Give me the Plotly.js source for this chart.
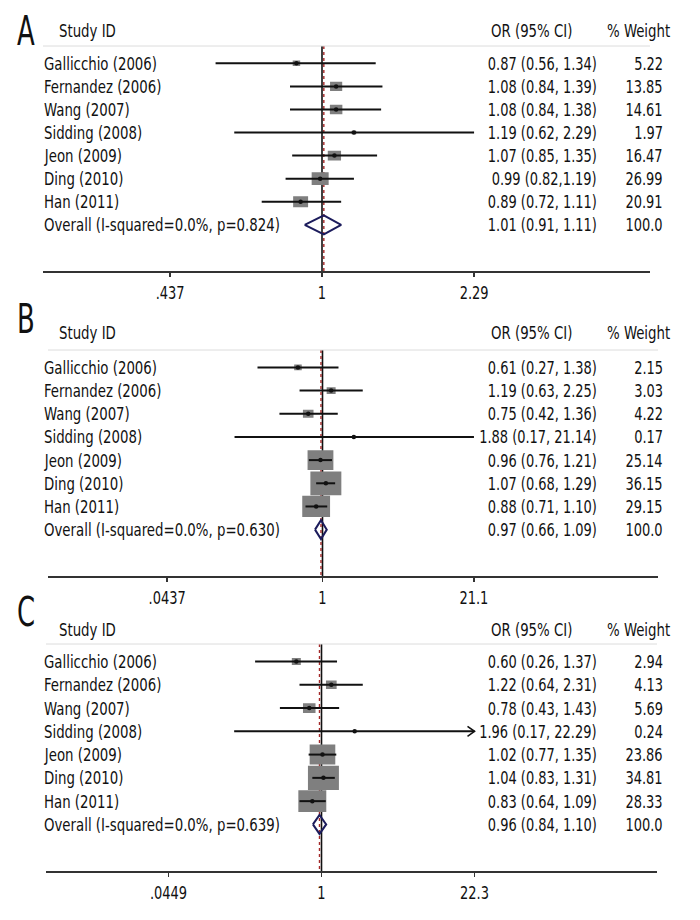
<!DOCTYPE html>
<html><head><meta charset="utf-8">
<script src="https://cdn.plot.ly/plotly-3.0.1.min.js"></script>
<style>html,body{margin:0;padding:0;background:#fff}#chart{width:700px;height:920px}</style>
</head><body><div id="chart"></div>
<script>
// ---------------- DATA ----------------
const studies = ['Gallicchio (2006)','Fernandez (2006)','Wang (2007)','Sidding (2008)','Jeon (2009)','Ding (2010)','Han (2011)'];

// Panel A
const labelA = 'A';
const overallLabelA = 'Overall (I-squared=0.0%, p=0.824)';
const orA = [0.87, 1.08, 1.08, 1.19, 1.07, 0.99, 0.89];
const loA = [0.56, 0.84, 0.84, 0.62, 0.85, 0.82, 0.72];
const hiA = [1.34, 1.39, 1.38, 2.29, 1.35, 1.19, 1.11];
const wA  = [5.22, 13.85, 14.61, 1.97, 16.47, 26.99, 20.91];
const overallA = [1.01, 0.91, 1.11];
const ciTextA = ['0.87 (0.56, 1.34)','1.08 (0.84, 1.39)','1.08 (0.84, 1.38)','1.19 (0.62, 2.29)','1.07 (0.85, 1.35)','0.99 (0.82,1.19)','0.89 (0.72, 1.11)','1.01 (0.91, 1.11)'];
const wTextA = ['5.22','13.85','14.61','1.97','16.47','26.99','20.91','100.0'];
const tickValsA = [0.437, 1, 2.29];
const tickTextA = ['.437', '1', '2.29'];
const arrowA = [0,0,0,0,0,0,0];

// Panel B
const labelB = 'B';
const overallLabelB = 'Overall (I-squared=0.0%, p=0.630)';
const orB = [0.61, 1.19, 0.75, 1.88, 0.96, 1.07, 0.88];
const loB = [0.27, 0.63, 0.42, 0.17, 0.76, 0.88, 0.71];
const hiB = [1.38, 2.25, 1.36, 21.14, 1.21, 1.29, 1.10];
const wB  = [2.15, 3.03, 4.22, 0.17, 25.14, 36.15, 29.15];
const overallB = [0.97, 0.86, 1.09];
const ciTextB = ['0.61 (0.27, 1.38)','1.19 (0.63, 2.25)','0.75 (0.42, 1.36)','1.88 (0.17, 21.14)','0.96 (0.76, 1.21)','1.07 (0.68, 1.29)','0.88 (0.71, 1.10)','0.97 (0.66, 1.09)'];
const wTextB = ['2.15','3.03','4.22','0.17','25.14','36.15','29.15','100.0'];
const tickValsB = [0.0437, 1, 21.1];
const tickTextB = ['.0437', '1', '21.1'];
const arrowB = [0,0,0,0,0,0,0];

// Panel C
const labelC = 'C';
const overallLabelC = 'Overall (I-squared=0.0%, p=0.639)';
const orC = [0.60, 1.22, 0.78, 1.96, 1.02, 1.04, 0.83];
const loC = [0.26, 0.64, 0.43, 0.17, 0.77, 0.83, 0.64];
const hiC = [1.37, 2.31, 1.43, 22.29, 1.35, 1.31, 1.09];
const wC  = [2.94, 4.13, 5.69, 0.24, 23.86, 34.81, 28.33];
const overallC = [0.96, 0.84, 1.10];
const ciTextC = ['0.60 (0.26, 1.37)','1.22 (0.64, 2.31)','0.78 (0.43, 1.43)','1.96 (0.17, 22.29)','1.02 (0.77, 1.35)','1.04 (0.83, 1.31)','0.83 (0.64, 1.09)','0.96 (0.84, 1.10)'];
const wTextC = ['2.94','4.13','5.69','0.24','23.86','34.81','28.33','100.0'];
const tickValsC = [0.0449, 1, 22.3];
const tickTextC = ['.0449', '1', '22.3'];
const arrowC = [0,0,0,1,0,0,0];

const headerStudy = 'Study ID';
const headerOR = 'OR (95% CI)';
const headerW = '% Weight';

// ---------------- LAYOUT / STYLE ----------------
const W = 700, H = 920;
const FONT = "'Liberation Sans Narrow', 'DejaVu Sans Condensed', 'Roboto Condensed', Arial, sans-serif";
const FS = 18.5;
const fx = px => px / W;
const fy = py => 1 - py / H;
const ROW_TOP = -0.75, ROW_BOT = 9;
const SX_TEXT = 0.80, SX_NUM = 0.78, SX_LETTER = 0.72, SX_TICK = 0.78;

const panels = [
  {key:'', label:labelA, overallLabel:overallLabelA, or:orA, lo:loA, hi:hiA, w:wA, ov:overallA, ciText:ciTextA, wText:wTextA, tv:tickValsA, tt:tickTextA, arrow:arrowA,
   xl:43, xr:650, p1:322, ppl:422.6, yt:46, yb:271, letterY:31, headerY:31, kx:3.27, ky:2.45},
  {key:'2', label:labelB, overallLabel:overallLabelB, or:orB, lo:loB, hi:hiB, w:wB, ov:overallB, ciText:ciTextB, wText:wTextB, tv:tickValsB, tt:tickTextB, arrow:arrowB,
   xl:48, xr:658, p1:322.5, ppl:114.3, yt:350, yb:576, letterY:319, headerY:332, kx:5.15, ky:3.95},
  {key:'3', label:labelC, overallLabel:overallLabelC, or:orC, lo:loC, hi:hiC, w:wC, ov:overallC, ciText:ciTextC, wText:wTextC, tv:tickValsC, tt:tickTextC, arrow:arrowC,
   xl:46, xr:657, p1:321.5, ppl:113.5, yt:644, yb:871, letterY:612, headerY:629, kx:5.25, ky:4.1}
];

const traces = [];
const annotations = [];
const annScale = [];
const shapes = [];
const layout = {
  width: W, height: H,
  margin: {l:0, r:0, t:0, b:0},
  paper_bgcolor: '#fff', plot_bgcolor: 'rgba(0,0,0,0)',
  showlegend: false,
  font: {family: FONT, size: FS, color: '#111'},
};
function addAnn(a, s) { annotations.push(a); annScale.push(s); }

panels.forEach(p => {
  const xa = 'x' + p.key, ya = 'y' + p.key;
  const rowPx = (p.yb - p.yt) / (ROW_BOT - ROW_TOP);
  const n = p.or.length;

  layout['xaxis' + p.key] = {
    type: 'log', domain: [fx(p.xl), fx(p.xr)], anchor: ya,
    range: [(p.xl - p.p1) / p.ppl, (p.xr - p.p1) / p.ppl],
    tickvals: p.tv, ticktext: p.tt, ticks: 'outside', ticklen: 4, tickwidth: 1.5, tickcolor: '#333',
    showline: true, linecolor: '#333', linewidth: 1.5, showgrid: false, zeroline: false,
    tickfont: {family: FONT, size: FS, color: '#111'}, fixedrange: true
  };
  layout['yaxis' + p.key] = {
    domain: [fy(p.yb), fy(p.yt)], anchor: xa, range: [ROW_BOT, ROW_TOP],
    visible: false, showgrid: false, zeroline: false, fixedrange: true
  };

  // null line at 1
  traces.push({x:[1,1], y:[ROW_TOP, ROW_BOT], xaxis:xa, yaxis:ya, mode:'lines',
    line:{color:'#111', width:1.6}, hoverinfo:'skip', cliponaxis:false});
  // overall effect dashed line
  traces.push({x:[p.ov[0], p.ov[0]], y:[ROW_TOP, ROW_BOT], xaxis:xa, yaxis:ya, mode:'lines',
    line:{color:'#a52a2a', width:1.4, dash:'dot'}, hoverinfo:'skip', cliponaxis:false});

  // weight boxes (rectangles sized by weight)
  const bx = [], by = [];
  for (let i = 0; i < n; i++) {
    const c = Math.log10(p.or[i]);
    const hw = p.kx * Math.sqrt(p.w[i]) / 2 / p.ppl;
    const hh = p.ky * Math.sqrt(p.w[i]) / 2 / rowPx;
    const x0 = Math.pow(10, c - hw), x1 = Math.pow(10, c + hw);
    bx.push(x0, x1, x1, x0, x0, null);
    by.push(i - hh, i - hh, i + hh, i + hh, i - hh, null);
  }
  traces.push({x:bx, y:by, xaxis:xa, yaxis:ya, mode:'lines', fill:'toself',
    fillcolor:'#7f7f7f', line:{width:0, color:'#7f7f7f'}, hoverinfo:'skip'});

  // CI lines
  const lx = [], ly = [];
  for (let i = 0; i < n; i++) { lx.push(p.lo[i], p.hi[i], null); ly.push(i, i, null); }
  traces.push({x:lx, y:ly, xaxis:xa, yaxis:ya, mode:'lines', line:{color:'#111', width:2}, hoverinfo:'skip'});

  // arrows for clipped CIs
  const ax = [], ay = [];
  for (let i = 0; i < n; i++) {
    if (!p.arrow[i]) continue;
    const e = Math.log10(p.hi[i]);
    const back = Math.pow(10, e - 7 / p.ppl);
    const dv = 5 / rowPx;
    ax.push(back, p.hi[i], back, null); ay.push(i - dv, i, i + dv, null);
  }
  if (ax.length) traces.push({x:ax, y:ay, xaxis:xa, yaxis:ya, mode:'lines', line:{color:'#111', width:1.6}, hoverinfo:'skip', cliponaxis:false});

  // point estimates
  traces.push({x:p.or, y:p.or.map((_, i) => i), xaxis:xa, yaxis:ya, mode:'markers',
    marker:{symbol:'circle', size:4.5, color:'#111'}, hoverinfo:'skip'});

  // overall diamond
  const dh = 9.5 / rowPx;
  traces.push({x:[p.ov[1], p.ov[0], p.ov[2], p.ov[0], p.ov[1]], y:[n, n - dh, n, n + dh, n],
    xaxis:xa, yaxis:ya, mode:'lines', line:{color:'#1c1c5c', width:2}, hoverinfo:'skip'});

  // header rule
  shapes.push({type:'line', xref:'paper', yref:'paper', x0:fx(p.xl), x1:fx(p.xr), y0:fy(p.yt), y1:fy(p.yt),
    line:{color:'#dcdcdc', width:1}});

  // texts
  const tf = {family: FONT, size: FS, color: '#111'};
  addAnn({xref:'paper', yref:'paper', x:fx(15), y:fy(p.letterY), text:p.label, showarrow:false,
    xanchor:'left', yanchor:'middle', font:{family:FONT, size:40, color:'#111'}}, SX_LETTER);
  addAnn({xref:'paper', yref:'paper', x:fx(57), y:fy(p.headerY), text:headerStudy, showarrow:false,
    xanchor:'left', yanchor:'middle', font:tf}, SX_TEXT);
  addAnn({xref:'paper', yref:'paper', x:fx(489), y:fy(p.headerY), text:headerOR, showarrow:false,
    xanchor:'left', yanchor:'middle', font:tf}, SX_TEXT);
  addAnn({xref:'paper', yref:'paper', x:fx(605), y:fy(p.headerY), text:headerW, showarrow:false,
    xanchor:'left', yanchor:'middle', font:tf}, SX_TEXT);
  const names = studies.concat([p.overallLabel]);
  names.forEach((s, i) => {
    addAnn({xref:'paper', yref:ya, x:fx(42), y:i, text:s, showarrow:false, xanchor:'left', yanchor:'middle', font:tf}, SX_TEXT);
    addAnn({xref:'paper', yref:ya, x:fx(599), y:i, text:p.ciText[i], showarrow:false, xanchor:'right', yanchor:'middle', font:tf}, SX_NUM);
    addAnn({xref:'paper', yref:ya, x:fx(665), y:i, text:p.wText[i], showarrow:false, xanchor:'right', yanchor:'middle', font:tf}, SX_NUM);
  });
});

layout.annotations = annotations;
layout.shapes = shapes;

// condense text horizontally (the reference uses a condensed face)
function squeeze(t, s, anchor) {
  const bb = t.getBBox();
  const ax = anchor === 'right' ? bb.x + bb.width : (anchor === 'left' ? bb.x : bb.x + bb.width / 2);
  const prev = t.getAttribute('transform') || '';
  t.setAttribute('transform', (prev + ' translate(' + ax + ',0) scale(' + s + ',1) translate(' + (-ax) + ',0)').trim());
}

Plotly.newPlot('chart', traces, layout, {staticPlot:true, displayModeBar:false}).then(gd => {
  gd.querySelectorAll('g.annotation').forEach(g => {
    const idx = +g.getAttribute('data-index');
    const t = g.querySelector('text.annotation-text');
    if (!t || !annotations[idx]) return;
    squeeze(t, annScale[idx], annotations[idx].xanchor);
  });
  gd.querySelectorAll('g.xtick text, g.x2tick text, g.x3tick text').forEach(t => squeeze(t, SX_TICK, 'center'));
});
</script>
</body></html>
